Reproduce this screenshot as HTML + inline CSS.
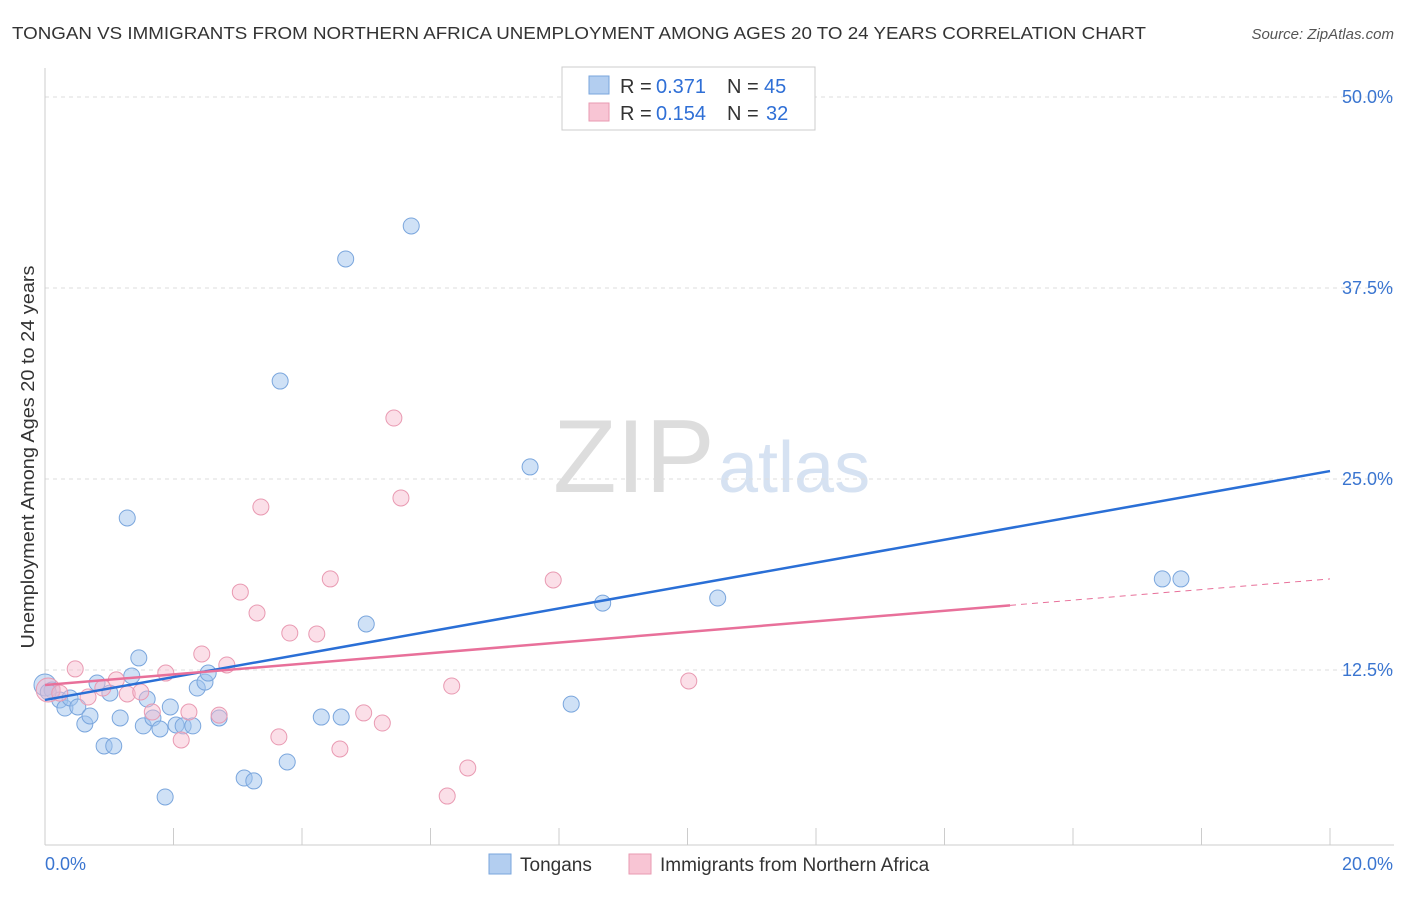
<!DOCTYPE html>
<html><head><meta charset="utf-8"><style>
body{margin:0;background:#fff;font-family:"Liberation Sans",sans-serif}
svg text{font-family:"Liberation Sans",sans-serif}
</style></head><body>
<svg id="chart" width="1406" height="892">
<text x="12" y="39" font-size="17.5" fill="#333" textLength="1134" lengthAdjust="spacingAndGlyphs">TONGAN VS IMMIGRANTS FROM NORTHERN AFRICA UNEMPLOYMENT AMONG AGES 20 TO 24 YEARS CORRELATION CHART</text>
<text x="1394" y="39" font-size="15" fill="#555" font-style="italic" text-anchor="end">Source: ZipAtlas.com</text>
<text x="553" y="492" font-size="104" fill="#ddd" font-family="Liberation Serif">ZIP</text>
<text x="718" y="492" font-size="72" fill="#d6e2f2">atlas</text>
<text transform="translate(34,457) rotate(-90)" font-size="18" fill="#333" text-anchor="middle" textLength="383" lengthAdjust="spacingAndGlyphs">Unemployment Among Ages 20 to 24 years</text>
<g id="grid"></g><g id="marks"></g>
<g>
<rect x="562" y="67" width="253" height="63" fill="#fff" stroke="#ccc"/>
<rect x="589" y="76" width="20" height="18" fill="#b3cef0" stroke="#7aa6dd"/>
<text x="620" y="93" font-size="20" fill="#333">R =</text><text x="656" y="93" font-size="20" fill="#2f6fd6">0.371</text>
<text x="727" y="93" font-size="20" fill="#333">N =</text><text x="764" y="93" font-size="20" fill="#2f6fd6">45</text>
<rect x="589" y="103" width="20" height="18" fill="#f8c5d4" stroke="#e99ab2"/>
<text x="620" y="120" font-size="20" fill="#333">R =</text><text x="656" y="120" font-size="20" fill="#2f6fd6">0.154</text>
<text x="727" y="120" font-size="20" fill="#333">N =</text><text x="766" y="120" font-size="20" fill="#2f6fd6">32</text>
</g>
<g>
<rect x="489" y="854" width="22" height="20" fill="#b3cef0" stroke="#7aa6dd"/>
<text x="520" y="871" font-size="19" fill="#333">Tongans</text>
<rect x="629" y="854" width="22" height="20" fill="#f8c5d4" stroke="#e99ab2"/>
<text x="660" y="871" font-size="19" fill="#333">Immigrants from Northern Africa</text>
</g>
</svg>
<script>
const yTicks=[12.5,25,37.5,50];
const xTickLabels=["0.0%","20.0%"];
const tonganX=[0,0.11,0.23,0.31,0.39,0.51,0.62,0.70,0.81,0.92,1.01,1.07,1.17,1.28,1.35,1.46,1.53,1.59,1.68,1.79,1.87,1.95,2.04,2.15,2.30,2.37,2.49,2.54,2.71,3.10,3.25,3.66,3.77,4.30,4.61,4.68,5.0,5.70,7.55,8.19,8.68,10.47,17.39,17.68,0.05];
const tonganY=[11.52,11.19,10.54,10.01,10.67,10.08,8.97,9.49,11.65,7.53,10.99,7.53,9.36,22.45,12.11,13.29,8.84,10.60,9.36,8.64,4.19,10.08,8.90,8.84,8.84,11.32,11.71,12.30,9.36,5.43,5.24,31.41,6.48,9.42,9.42,39.40,15.51,41.56,25.79,10.27,16.88,17.21,18.46,18.46,11.06];
const immX=[0.05,0.23,0.47,0.67,0.90,1.11,1.28,1.49,1.67,1.88,2.12,2.24,2.44,2.71,2.83,3.04,3.30,3.36,3.64,3.81,4.23,4.44,4.59,4.96,5.25,5.43,5.54,6.33,6.58,6.26,7.91,10.02];
const immY=[11.19,10.99,12.57,10.73,11.32,11.85,10.93,11.06,9.75,12.30,7.92,9.75,13.55,9.55,12.83,17.60,16.23,23.17,8.12,14.92,14.86,18.46,7.33,9.69,9.03,28.99,23.76,11.45,6.09,4.25,18.39,11.78];
const tonganTrend=[10.54,25.52];
const immTrend=[11.52,18.46];
const immSolidEnd=15.02;
const NS="http://www.w3.org/2000/svg";
const X=v=>45+v/20*1285, Y=v=>861-v/12.5*191;
function mk(tag,attrs,parent){const e=document.createElementNS(NS,tag);for(const k in attrs)e.setAttribute(k,attrs[k]);document.getElementById(parent).appendChild(e);return e;}
yTicks.forEach(t=>{
 const l=mk('line',{x1:45,x2:1394,y1:Y(t),y2:Y(t),stroke:'#ddd','stroke-dasharray':'4,4'},'grid');
 
 
 const tx=mk('text',{x:1393,y:Y(t)+6,'font-size':18,fill:'#3a75d0','text-anchor':'end'},'grid');
 tx.textContent=t.toFixed(1)+'%';
 
 
});
const ax=mk('line',{x1:45,x2:45,y1:68,y2:845,stroke:'#ccc'},'grid');


const bx=mk('line',{x1:45,x2:1394,y1:845,y2:845,stroke:'#ccc'},'grid');


for(let i=0;i<=10;i++){const t=mk('line',{x1:X(i*2),x2:X(i*2),y1:828,y2:845,stroke:'#ccc'},'grid');
 
 }
[[xTickLabels[0],45,'start'],[xTickLabels[1],1393,'end']].forEach(([s,x,a])=>{const t=mk('text',{x:x,y:870,'font-size':18,fill:'#3a75d0','text-anchor':a},'grid');t.textContent=s;
 
 });
tonganX.forEach((x,i)=>{const c=mk('circle',{cx:X(x),cy:Y(tonganY[i]),r:i==0?11:8,fill:'rgba(160,195,238,0.5)',stroke:'#7aa6dd','stroke-width':1},'marks');
 
 });
immX.forEach((x,i)=>{const c=mk('circle',{cx:X(x),cy:Y(immY[i]),r:i==0?12:8,fill:'rgba(246,185,205,0.45)',stroke:'#e99ab2','stroke-width':1},'marks');
 
 });
const tl=mk('line',{x1:X(0),y1:Y(tonganTrend[0]),x2:X(20),y2:Y(tonganTrend[1]),stroke:'#2a6fd6','stroke-width':2.5},'marks');


const iy=v=>immTrend[0]+(immTrend[1]-immTrend[0])*v/20;
const il=mk('line',{x1:X(0),y1:Y(iy(0)),x2:X(immSolidEnd),y2:Y(iy(immSolidEnd)),stroke:'#e8709a','stroke-width':2.5},'marks');


const id=mk('line',{x1:X(immSolidEnd),y1:Y(iy(immSolidEnd)),x2:X(20),y2:Y(iy(20)),stroke:'#e8709a','stroke-width':1,'stroke-dasharray':'6,5'},'marks');


</script>
</body></html>
